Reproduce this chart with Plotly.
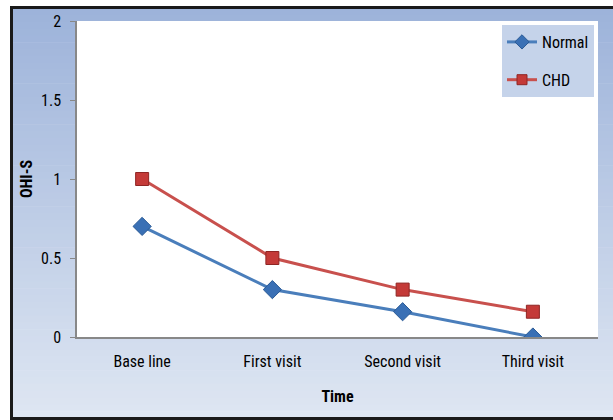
import plotly.graph_objects as go

# OHI-S scores over the follow-up visits
visits = ["Base line", "First visit", "Second visit", "Third visit"]
normal_scores = [0.7, 0.3, 0.16, 0.0]
chd_scores = [1.0, 0.5, 0.3, 0.16]
y_ticks = [0, 0.5, 1, 1.5, 2]
y_tick_labels = ["0", "0.5", "1", "1.5", "2"]

W, H = 613, 420
ML, MR, MT, MB = 77, 15, 21, 83
PW, PH = W - ML - MR, H - MT - MB

FONT = "Liberation Sans Narrow, Roboto Condensed, Arial Narrow, sans-serif"

NORMAL_LINE, NORMAL_MARK, NORMAL_EDGE = "#4a7ebb", "#3a70b5", "#2a5a95"
CHD_LINE, CHD_MARK, CHD_EDGE = "#c8504d", "#c43a38", "#8f2624"


def px_x(px):
    return (px - ML) / PW


def px_y(py):
    return (H - MB - py) / PH


def lerp(c1, c2, t):
    return "rgb(%d,%d,%d)" % tuple(round(a + (b - a) * t) for a, b in zip(c1, c2))


shapes = []
# chart-area gradient inside the black frame
top_c, bot_c = (157, 179, 218), (222, 230, 242)
x0, x1, y0, y1 = 11, 620, 8, 418
n = 60
for i in range(n):
    ya = y0 + (y1 - y0) * i / n
    yb = y0 + (y1 - y0) * (i + 1) / n + 0.6
    shapes.append(dict(type="rect", xref="paper", yref="paper",
                       x0=px_x(x0), x1=px_x(x1), y0=px_y(ya), y1=px_y(yb),
                       fillcolor=lerp(top_c, bot_c, i / (n - 1)),
                       line=dict(width=0), layer="below"))
# frame (its right side runs past the page edge)
shapes.append(dict(type="rect", xref="paper", yref="paper",
                   x0=px_x(11.5), x1=px_x(630), y0=px_y(7.5), y1=px_y(418.5),
                   line=dict(color="#1a1a1a", width=3), layer="below"))
# white plot area
shapes.append(dict(type="rect", xref="paper", yref="paper",
                   x0=0, x1=1, y0=0, y1=1, fillcolor="white",
                   line=dict(width=0), layer="below"))

fig = go.Figure()
fig.add_trace(go.Scatter(
    x=visits, y=normal_scores, name="Normal", mode="lines+markers",
    showlegend=False, legendgroup="normal",
    line=dict(color=NORMAL_LINE, width=3),
    marker=dict(symbol="diamond", size=14, color=NORMAL_MARK,
                line=dict(color=NORMAL_EDGE, width=1)),
))
fig.add_trace(go.Scatter(
    x=visits, y=chd_scores, name="CHD", mode="lines+markers",
    showlegend=False, legendgroup="chd",
    line=dict(color=CHD_LINE, width=3),
    marker=dict(symbol="square", size=13, color=CHD_MARK,
                line=dict(color=CHD_EDGE, width=1)),
))
# legend entries with smaller markers
fig.add_trace(go.Scatter(
    x=[None], y=[None], name="Normal", mode="lines+markers",
    legendgroup="normal",
    line=dict(color=NORMAL_LINE, width=3),
    marker=dict(symbol="diamond", size=11, color=NORMAL_MARK,
                line=dict(color=NORMAL_EDGE, width=1)),
))
fig.add_trace(go.Scatter(
    x=[None], y=[None], name="CHD", mode="lines+markers",
    legendgroup="chd",
    line=dict(color=CHD_LINE, width=3),
    marker=dict(symbol="square", size=10, color=CHD_MARK,
                line=dict(color=CHD_EDGE, width=1)),
))

fig.update_layout(
    width=W, height=H,
    margin=dict(l=ML, r=MR, t=MT, b=MB, pad=0),
    paper_bgcolor="white", plot_bgcolor="white",
    font=dict(family=FONT, size=16, color="black"),
    shapes=shapes,
    showlegend=True,
    legend=dict(x=px_x(502), y=px_y(25), xanchor="left", yanchor="top",
                bgcolor="#c5d3ea", borderwidth=0,
                font=dict(family=FONT, size=16, color="black"),
                itemwidth=30, traceorder="grouped", tracegroupgap=14),
    xaxis=dict(
        type="category", range=[-0.5, 3.5],
        showline=True, linecolor="#888888", linewidth=1.5,
        showgrid=False, ticks="", zeroline=False,
        ticklabelstandoff=9,
        tickfont=dict(family=FONT, size=16),
        title=dict(text="<b>Time</b>", standoff=21,
                   font=dict(family=FONT, size=16)),
    ),
    yaxis=dict(
        range=[0, 2], tickvals=y_ticks, ticktext=y_tick_labels,
        showline=True, linecolor="#888888", linewidth=1.5,
        showgrid=False, zeroline=False,
        ticks="outside", ticklen=5, tickcolor="#888888",
        ticklabelstandoff=6,
        tickfont=dict(family=FONT, size=16),
        title=dict(text="<b>OHI-S</b>", standoff=4,
                   font=dict(family=FONT, size=16)),
    ),
)

fig.write_html("out.html")
